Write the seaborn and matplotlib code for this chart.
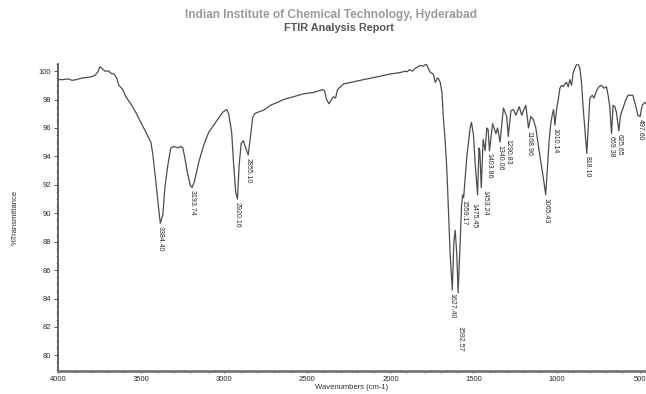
import matplotlib
matplotlib.use("Agg")
import matplotlib.pyplot as plt
from matplotlib.ticker import MultipleLocator
import seaborn as sns
import pandas as pd

# traced spectrum (cm-1, %T)
wavenumber = [
    3996, 3970, 3940, 3915, 3890, 3860, 3830, 3800, 3778, 3760, 3748, 3736,
    3718, 3694, 3682, 3664, 3646, 3634, 3610, 3592, 3562, 3532, 3502, 3471,
    3441, 3429, 3411, 3395, 3384.40, 3369, 3357, 3339, 3321, 3303, 3279, 3261,
    3249, 3240, 3222, 3205, 3193.74, 3180, 3153, 3123, 3093, 3051, 3009, 2985,
    2973, 2955, 2943, 2931, 2920.16, 2910, 2898, 2885, 2871, 2855.10, 2841,
    2829, 2817, 2799, 2763, 2721, 2679, 2643, 2583, 2523, 2462, 2408, 2396,
    2384, 2370, 2360, 2342, 2330, 2318, 2282, 2240, 2162, 2078, 2000, 1940,
    1910, 1898, 1886, 1868, 1850, 1820, 1802, 1784, 1772, 1760, 1742, 1730,
    1718, 1712, 1700, 1690, 1680, 1670, 1660, 1650, 1640, 1627.40, 1618, 1610,
    1600, 1592.57, 1580, 1572, 1565, 1559.17, 1550, 1540, 1530, 1520, 1512,
    1500, 1490, 1475.45, 1467, 1462, 1453.24, 1442, 1430, 1420, 1412, 1403.86,
    1385, 1365, 1355, 1340.06, 1320, 1300, 1290.83, 1275, 1260, 1245, 1225,
    1210, 1200, 1185, 1168.96, 1155, 1140, 1125, 1100, 1080, 1065.43, 1055,
    1045, 1035, 1025, 1018, 1010.14, 1000, 990, 980, 970, 960, 950, 940, 930,
    920, 910, 900, 890, 875, 860, 850, 840, 818.10, 810, 800, 785, 775, 760,
    745, 730, 715, 700, 690, 680, 669.38, 660, 650, 640, 625.65, 615, 600, 585,
    570, 541, 525, 511, 497.60, 485, 468, 460,
]
transmittance = [
    99.4, 99.4, 99.45, 99.35, 99.4, 99.5, 99.55, 99.6, 99.7, 99.95, 100.3, 100.2,
    100.0, 100.0, 99.85, 99.8, 99.5, 99.0, 98.7, 98.2, 97.7, 97.1, 96.4, 95.7,
    95.0, 94.1, 92.2, 90.4, 89.3, 89.9, 91.8, 93.4, 94.6, 94.7, 94.6, 94.7,
    94.6, 94.1, 92.9, 92.0, 91.8, 92.2, 93.6, 94.8, 95.7, 96.4, 97.1, 97.3,
    97.0, 95.7, 93.4, 91.5, 91.0, 93.4, 94.9, 95.1, 94.6, 94.1, 95.5,
    96.7, 97.0, 97.1, 97.25, 97.6, 97.8, 98.0, 98.2, 98.4, 98.5, 98.7, 98.6,
    98.0, 97.7, 97.9, 98.2, 98.1, 98.7, 99.1, 99.2, 99.4, 99.6, 99.8, 99.9,
    100.0, 99.95, 100.1, 100.0, 100.2, 100.4, 100.35, 100.5, 100.2, 99.9, 99.8, 99.2,
    99.5, 99.5, 99.2, 98.5, 96.5, 95.0, 93.0, 90.0, 87.0, 84.6, 88.0, 88.8,
    87.0, 84.4, 88.0, 90.5, 91.3, 91.1, 92.5, 94.0, 95.0, 96.0, 96.4,
    95.5, 93.5, 91.3, 94.6, 94.4, 91.8, 95.2, 94.4, 96.0, 95.9, 94.4,
    96.3, 95.6, 96.0, 95.0, 97.4, 96.8, 95.4, 97.2, 97.3, 96.9, 97.5,
    96.9, 97.2, 97.6, 96.0, 96.8, 96.6, 96.0, 94.0, 92.5, 91.3, 93.2,
    95.1, 96.3, 97.0, 97.3, 96.2, 97.3, 98.0, 98.8, 99.0, 98.9, 99.1, 99.2, 98.9,
    99.4, 99.0, 99.9, 100.2, 100.6, 100.2, 99.2, 97.4, 94.2, 96.0, 98.1, 98.3, 98.1, 98.6,
    98.9, 99.0, 98.8, 98.9, 98.3, 97.5, 95.6, 97.6, 97.5, 97.1, 95.8, 96.9, 97.4, 97.95,
    98.3, 98.3, 97.6, 96.9, 96.8, 97.6, 97.8, 97.7,
]

# labelled peaks
peak_wn = [3384.40, 3193.74, 2920.16, 2855.10, 1627.40, 1592.57, 1559.17,
           1475.45, 1453.24, 1403.86, 1340.06, 1290.83, 1168.96, 1065.43,
           1010.14, 818.10, 669.38, 625.65, 497.60]
peak_t = [89.3, 91.8, 91.0, 94.1, 84.6, 84.4, 91.1,
          91.3, 91.8, 94.4, 95.0, 95.4, 96.0, 91.3,
          96.2, 94.2, 95.6, 95.8, 96.8]
peak_labels = ["3384.40", "3193.74", "2920.16", "2855.10", "1627.40", "1592.57",
               "1559.17", "1475.45", "1453.24", "1403.86", "1340.06", "1290.83",
               "1168.96", "1065.43", "1010.14", "818.10", "669.38", "625.65",
               "497.60"]

y_ticks = [80, 82, 84, 86, 88, 90, 92, 94, 96, 98, 100]
x_ticks = [4000, 3500, 3000, 2500, 2000, 1500, 1000, 500]

sns.set_theme(style="ticks")
plt.rcParams["font.family"] = ["Liberation Sans", "DejaVu Sans"]

LINE = "#4d4d4d"
TEXT = "#2b2b2b"

df = pd.DataFrame({"wn": wavenumber, "t": transmittance})

fig = plt.figure(figsize=(6.46, 3.94), dpi=100)
ax = fig.add_axes([58 / 646, 1 - 371 / 394, 1 - 58 / 646, (371 - 64) / 394])

sns.lineplot(data=df, x="wn", y="t", ax=ax, sort=False, estimator=None,
             color=LINE, linewidth=0.9)

ax.set_xlim(4000, 462)
ax.set_ylim(78.9, 100.5)
ax.set_xticks(x_ticks)
ax.set_yticks(y_ticks)
ax.xaxis.set_minor_locator(MultipleLocator(100))
ax.yaxis.set_minor_locator(MultipleLocator(0.5))

for pos in ["top", "right"]:
    ax.spines[pos].set_visible(False)
ax.spines["left"].set_color("#555555")
ax.spines["left"].set_linewidth(1.3)
ax.spines["bottom"].set_color("#777777")
ax.spines["bottom"].set_linewidth(2.0)

ax.tick_params(axis="both", which="major", labelsize=5.5, length=3, width=0.7,
               colors="#555555", labelcolor=TEXT, pad=2)
ax.tick_params(axis="both", which="minor", length=1.8, width=0.5, colors="#666666")
ax.tick_params(axis="x", which="both", length=1.5)

ax.set_xlabel("Wavenumbers (cm-1)", fontsize=5.5, color=TEXT, labelpad=1)
ax.set_ylabel("%Transmittance", fontsize=5.5, color=TEXT, labelpad=14)

# peak annotations, rotated like the instrument printout
label_shift = {"1592.57": (1.5, -22), "1475.45": (-2.5, -4), "1453.24": (2.5, 0)}
for wn, t, lab in zip(peak_wn, peak_t, peak_labels):
    dx, dy = label_shift.get(lab, (0, 0))
    ax.annotate(lab, xy=(wn, t), xytext=(dx, -2 + dy),
                textcoords="offset points", rotation=-90, ha="center", va="top",
                fontsize=5, color=TEXT, annotation_clip=False)

fig.text(0.513, 0.963, "Indian Institute of Chemical Technology, Hyderabad",
         ha="center", va="center", fontsize=8.6, fontweight="bold", color="#9a9a9a")
fig.text(0.525, 0.928, "FTIR Analysis Report", ha="center", va="center",
         fontsize=7.8, fontweight="bold", color="#555555")

fig.savefig("out.png", dpi=100)
